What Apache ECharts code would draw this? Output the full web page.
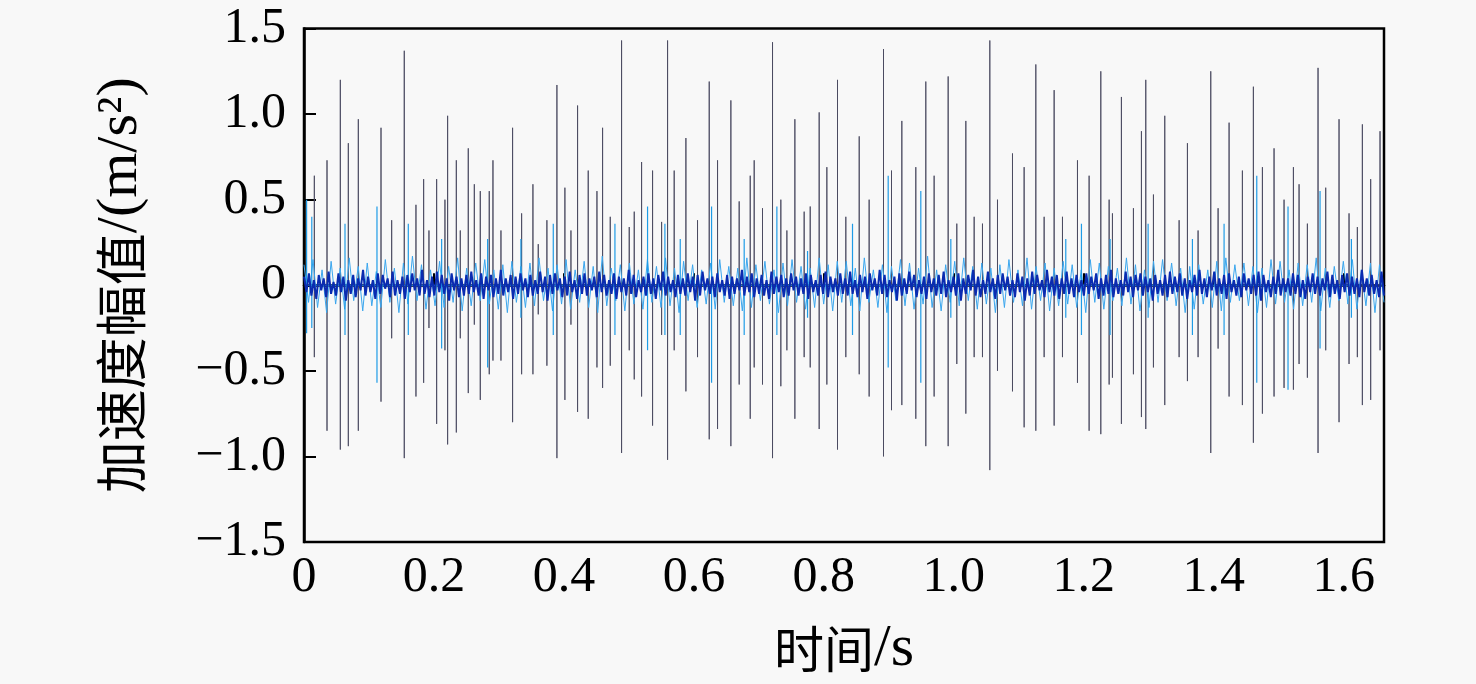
<!DOCTYPE html>
<html>
<head>
<meta charset="utf-8">
<script src="https://cdn.jsdelivr.net/npm/echarts@6/dist/echarts.min.js"></script>
<style>
html,body{margin:0;padding:0;background:#f8f8f8;}
#chart{width:1476px;height:684px;}
</style>
</head>
<body>
<div id="chart"></div>
<script>
// ---- data ----
const xTicks = [0, 0.2, 0.4, 0.6, 0.8, 1.0, 1.2, 1.4, 1.6];
const yTicks = [-1.5, -1.0, -0.5, 0, 0.5, 1.0, 1.5];

// large impulses (dark thin lines): time (s), positive peak, negative peak (m/s^2)
const spikeTime = [
  0.0159,0.0354,0.0559,0.0682,0.0836,0.1185,0.1349,0.1543,0.1723,0.1841,
  0.1923,0.2041,0.2169,0.2210,0.2344,0.2405,0.2528,0.2621,0.2713,0.2851,
  0.2908,0.3031,0.3210,0.3349,0.3523,0.3605,0.3738,0.3892,0.4015,0.4108,
  0.4210,0.4374,0.4508,0.4595,0.4713,0.4887,0.5005,0.5082,0.5195,0.5364,
  0.5503,0.5595,0.5697,0.5877,0.6056,0.6236,0.6364,0.6569,0.6697,0.6867,
  0.6928,0.7056,0.7210,0.7338,0.7431,0.7554,0.7697,0.7790,0.7928,0.8046,
  0.8210,0.8338,0.8544,0.8697,0.8918,0.9041,0.9200,0.9415,0.9569,0.9697,
  0.9913,1.0046,1.0185,1.0313,1.0441,1.0554,1.0672,1.0903,1.1082,1.1262,
  1.1390,1.1544,1.1672,1.1903,1.2082,1.2262,1.2390,1.2441,1.2579,1.2764,
  1.2887,1.2954,1.3072,1.3246,1.3467,1.3595,1.3759,1.3954,1.4067,1.4236,
  1.4441,1.4610,1.4749,1.4928,1.5082,1.5226,1.5313,1.5441,1.5605,1.5723,
  1.5928,1.6082,1.6210,1.6287,1.6415,1.6559
];
const spikeUp = [
  0.64,0.73,1.20,0.83,0.97,0.92,0.38,1.37,0.47,0.62,
  0.32,0.62,0.50,0.99,0.73,0.32,0.80,0.59,0.55,0.55,
  0.73,0.32,0.92,0.42,0.59,0.24,0.38,1.17,0.57,0.32,
  1.05,0.67,0.55,0.92,0.40,1.43,0.34,0.43,0.72,0.67,
  0.37,1.43,0.67,0.86,0.38,1.19,0.73,1.08,0.49,0.64,
  0.73,0.45,1.42,0.50,0.32,0.97,0.43,0.46,1.01,0.69,
  1.20,0.40,0.87,0.50,1.38,0.67,0.96,0.69,1.19,0.64,
  1.22,0.36,0.96,0.40,0.36,1.43,0.50,0.77,0.69,1.29,
  0.40,1.14,0.40,0.73,0.64,1.25,0.50,0.42,1.10,0.45,
  0.90,1.20,0.53,0.99,0.38,0.83,0.32,1.25,0.45,0.95,
  0.67,1.16,0.69,0.80,0.50,0.69,0.59,0.36,1.27,0.57,
  0.97,0.42,0.34,0.94,0.62,0.90
];
const spikeDown = [
  -0.42,-0.85,-0.96,-0.94,-0.85,-0.68,-0.31,-1.01,-0.65,-0.57,
  -0.25,-0.81,-0.38,-0.93,-0.86,-0.31,-0.63,-0.23,-0.67,-0.52,
  -0.44,-0.44,-0.80,-0.52,-0.52,-0.17,-0.47,-1.01,-0.67,-0.23,
  -0.74,-0.78,-0.48,-0.60,-0.47,-0.98,-0.38,-0.55,-0.65,-0.82,
  -0.29,-1.02,-0.38,-0.62,-0.42,-0.90,-0.84,-0.94,-0.58,-0.78,
  -0.48,-0.58,-1.01,-0.59,-0.38,-0.78,-0.42,-0.48,-0.84,-0.58,
  -0.96,-0.42,-0.52,-0.65,-1.00,-0.73,-0.70,-0.78,-0.94,-0.65,
  -0.94,-0.46,-0.75,-0.42,-0.42,-1.08,-0.50,-0.62,-0.83,-0.85,
  -0.42,-0.82,-0.42,-0.57,-0.85,-0.87,-0.58,-0.54,-0.81,-0.52,
  -0.77,-0.84,-0.48,-0.70,-0.42,-0.56,-0.42,-0.98,-0.37,-0.65,
  -0.70,-0.92,-0.75,-0.65,-0.60,-0.61,-0.46,-0.54,-0.98,-0.38,
  -0.80,-0.46,-0.42,-0.70,-0.67,-0.38
];

// medium impulses (light blue lines)
const blueTime = [
  0.0040,0.0120,0.0631,0.1123,0.1605,0.2118,0.2826,0.3338,0.3836,0.4785,
  0.5287,0.5554,0.5790,0.6272,0.6774,0.7277,0.7749,0.8441,0.8990,0.9492,
  0.9954,1.1723,1.1964,1.2405,1.2990,1.3672,1.4159,1.4662,1.5143,1.5636,
  1.6118
];
const blueUp = [
  0.50,0.40,0.36,0.46,0.36,0.27,0.27,0.27,0.36,0.36,
  0.46,0.36,0.27,0.46,0.27,0.46,0.20,0.36,0.64,0.55,
  0.27,0.27,0.36,0.27,0.36,0.27,0.36,0.64,0.46,0.55,
  0.27
];
const blueDown = [
  -0.28,-0.25,-0.29,-0.57,-0.29,-0.37,-0.48,-0.19,-0.29,-0.29,
  -0.38,-0.29,-0.29,-0.57,-0.29,-0.29,-0.19,-0.29,-0.48,-0.57,
  -0.19,-0.19,-0.29,-0.29,-0.19,-0.29,-0.29,-0.57,-0.61,-0.37,
  -0.19
];

// dense background vibration (dark blue core), successive samples
const noiseDark = [
  0.05,-0.04,0.07,-0.06,0.03,-0.08,0.06,-0.03,0.04,-0.07,
  0.08,-0.05,0.02,-0.06,0.07,-0.04,0.05,-0.09,0.03,-0.05,
  0.06,-0.07,0.04,-0.03,0.09,-0.06,0.05,-0.04,0.03,-0.08,
  0.07,-0.05,0.06,-0.02,0.04,-0.07,0.08,-0.06,0.03,-0.05,
  0.05,-0.08,0.06,-0.04,0.07,-0.03,0.04,-0.06,0.09,-0.05,
  0.03,-0.07,0.05,-0.06,0.08,-0.04,0.06,-0.05,0.04,-0.09,
  0.07,-0.03,0.05,-0.07,0.04,-0.06,0.06,-0.05,0.08,-0.04,
  0.03,-0.06,0.07,-0.08,0.05,-0.03,0.06,-0.07,0.04,-0.05,
  0.09,-0.06,0.04,-0.04,0.06,-0.08,0.05,-0.05,0.07,-0.03,
  0.04,-0.07,0.06,-0.06,0.03,-0.05,0.08,-0.04,0.05,-0.09,
  0.06,-0.05,0.07,-0.03,0.04,-0.07,0.05,-0.06,0.08,-0.04,
  0.03,-0.08,0.06,-0.05,0.07,-0.06,0.04,-0.03,0.05,-0.07,
  0.08,-0.04,0.06,-0.06,0.03,-0.05,0.07,-0.08,0.05,-0.04,
  0.04,-0.06,0.09,-0.05,0.06,-0.07,0.03,-0.04,0.05,-0.06,
  0.07,-0.05,0.04,-0.08,0.06,-0.03,0.08,-0.06,0.05,-0.04,
  0.03,-0.07,0.06,-0.05,0.04,-0.06,0.07,-0.04,0.05,-0.09,
  0.06,-0.06,0.08,-0.03,0.04,-0.05,0.05,-0.07,0.07,-0.04,
  0.03,-0.06,0.06,-0.08,0.05,-0.05,0.04,-0.03,0.09,-0.06,
  0.05,-0.04,0.07,-0.07,0.04,-0.05,0.06,-0.06,0.03,-0.08,
  0.08,-0.05,0.05,-0.04,0.06,-0.07,0.04,-0.06,0.07,-0.03,
  0.05,-0.06,0.04,-0.05,0.07,-0.08,0.06,-0.04,0.03,-0.06,
  0.06,-0.05,0.08,-0.07,0.05,-0.04,0.04,-0.06,0.07,-0.05,
  0.04,-0.06,0.08,-0.05,0.03,-0.07,0.06,-0.04,0.05,-0.08,
  0.07,-0.03,0.04,-0.06,0.09,-0.05,0.06,-0.07,0.03,-0.04,
  0.05,-0.09,0.07,-0.06,0.04,-0.05,0.08,-0.03,0.06,-0.07,
  0.03,-0.05,0.05,-0.08,0.07,-0.04,0.04,-0.06,0.06,-0.05,
  0.08,-0.07,0.03,-0.04,0.05,-0.06,0.07,-0.09,0.04,-0.05,
  0.06,-0.03,0.09,-0.06,0.05,-0.07,0.03,-0.05,0.08,-0.04,
  0.04,-0.08,0.06,-0.05,0.07,-0.03,0.05,-0.06,0.03,-0.07,
  0.07,-0.04,0.05,-0.09,0.04,-0.06,0.08,-0.05,0.06,-0.03,
  0.03,-0.07,0.09,-0.04,0.05,-0.06,0.06,-0.08,0.04,-0.05,
  0.08,-0.05,0.04,-0.07,0.06,-0.04,0.03,-0.06,0.07,-0.05,
  0.05,-0.03,0.07,-0.08,0.04,-0.06,0.06,-0.05,0.09,-0.07,
  0.04,-0.05,0.03,-0.06,0.08,-0.04,0.05,-0.07,0.06,-0.03,
  0.07,-0.06,0.05,-0.04,0.04,-0.09,0.06,-0.05,0.03,-0.06,
  0.06,-0.07,0.08,-0.05,0.05,-0.04,0.07,-0.06,0.04,-0.08,
  0.03,-0.04,0.06,-0.06,0.09,-0.05,0.04,-0.07,0.05,-0.03,
  0.08,-0.06,0.04,-0.05,0.06,-0.08,0.07,-0.04,0.03,-0.06,
  0.05,-0.07,0.07,-0.03,0.04,-0.05,0.06,-0.06,0.08,-0.09,
  0.06,-0.04,0.03,-0.07,0.05,-0.05,0.09,-0.06,0.04,-0.04,
  0.04,-0.06,0.07,-0.05,0.06,-0.07,0.03,-0.08,0.05,-0.04,
  0.07,-0.05,0.05,-0.06,0.04,-0.03,0.08,-0.07,0.06,-0.05,
  0.03,-0.08,0.06,-0.04,0.07,-0.06,0.05,-0.05,0.04,-0.07,
  0.09,-0.04,0.04,-0.06,0.06,-0.05,0.03,-0.07,0.08,-0.06
];

// lighter blue fringe of the background vibration
const noiseLight = [
  0.12,-0.10,0.15,-0.13,0.09,-0.16,0.14,-0.11,0.10,-0.14,
  0.16,-0.09,0.11,-0.15,0.13,-0.12,0.08,-0.13,0.15,-0.10,
  0.10,-0.16,0.13,-0.11,0.17,-0.09,0.12,-0.14,0.09,-0.12,
  0.14,-0.13,0.11,-0.10,0.16,-0.15,0.10,-0.12,0.13,-0.09,
  0.15,-0.11,0.09,-0.14,0.12,-0.16,0.14,-0.10,0.11,-0.13,
  0.13,-0.12,0.16,-0.09,0.10,-0.15,0.12,-0.11,0.15,-0.14,
  0.09,-0.10,0.14,-0.13,0.11,-0.16,0.17,-0.12,0.10,-0.09,
  0.12,-0.15,0.13,-0.11,0.09,-0.14,0.15,-0.10,0.11,-0.13,
  0.16,-0.12,0.10,-0.16,0.14,-0.09,0.12,-0.13,0.09,-0.11,
  0.13,-0.14,0.15,-0.10,0.11,-0.12,0.10,-0.15,0.16,-0.13,
  0.12,-0.09,0.14,-0.11,0.09,-0.16,0.13,-0.12,0.15,-0.10,
  0.11,-0.14,0.10,-0.13,0.16,-0.11,0.12,-0.15,0.14,-0.10,
  0.14,-0.12,0.10,-0.15,0.16,-0.10,0.09,-0.13,0.12,-0.16,
  0.11,-0.09,0.15,-0.12,0.13,-0.14,0.10,-0.11,0.17,-0.13,
  0.09,-0.15,0.12,-0.10,0.14,-0.12,0.16,-0.09,0.11,-0.14,
  0.13,-0.11,0.10,-0.16,0.12,-0.13,0.15,-0.10,0.09,-0.12,
  0.16,-0.14,0.11,-0.09,0.13,-0.15,0.10,-0.12,0.14,-0.11,
  0.12,-0.13,0.09,-0.16,0.15,-0.10,0.13,-0.14,0.11,-0.09,
  0.10,-0.12,0.16,-0.11,0.12,-0.15,0.09,-0.13,0.14,-0.10,
  0.15,-0.09,0.13,-0.12,0.10,-0.16,0.11,-0.14,0.12,-0.11,
  0.09,-0.13,0.14,-0.15,0.16,-0.10,0.12,-0.09,0.13,-0.12,
  0.11,-0.16,0.10,-0.13,0.15,-0.11,0.14,-0.10,0.09,-0.14,
  0.13,-0.12,0.12,-0.10,0.16,-0.15,0.10,-0.13,0.11,-0.09,
  0.14,-0.11,0.15,-0.14,0.09,-0.12,0.13,-0.16,0.12,-0.10
];

const xMax = 1.662;

// ---- build series from the arrays ----
function impulses(ts, ups, downs) {
  const out = [];
  for (let i = 0; i < ts.length; i++) {
    out.push([ts[i], 0], [ts[i], ups[i]], [ts[i], downs[i]], [ts[i], 0]);
  }
  return out;
}
const fmt = v => (Math.abs(v) < 1e-9 ? '0' : v.toFixed(1).replace('-', '\u2212'));

const chart = echarts.init(document.getElementById('chart'), null, {renderer: 'canvas'});
const labelFont = {fontFamily: "'Liberation Serif', 'Times New Roman', serif", fontSize: 50, color: '#000'};
const cjk = "'Noto Sans CJK SC'";
const latin = "'Liberation Serif', serif";

chart.setOption({
  animation: false,
  backgroundColor: '#f8f8f8',
  grid: {left: 304, right: 92, top: 28.5, bottom: 141, show: true, borderColor: '#000', borderWidth: 2.5, backgroundColor: 'transparent'},
  xAxis: [
    {
      type: 'value', min: 0, max: xMax, interval: 0.2,
      axisLine: {show: true, lineStyle: {color: '#000', width: 2.5}},
      axisTick: {show: true, inside: true, length: 12, lineStyle: {color: '#000', width: 2}},
      splitLine: {show: false},
      axisLabel: Object.assign({margin: 11, formatter: fmt, showMaxLabel: false}, labelFont),
      name: '{c|时间}{l|/s}', nameLocation: 'middle', nameGap: 77,
      nameTextStyle: {color: '#000', rich: {
        c: {fontFamily: cjk, fontSize: 50, color: '#000'},
        l: {fontFamily: latin, fontSize: 60, color: '#000'}
      }}
    },
    {type: 'category', show: false, boundaryGap: false, data: noiseDark.map((_, i) => i)},
    {type: 'category', show: false, boundaryGap: false, data: noiseLight.map((_, i) => i)}
  ],
  yAxis: {
    type: 'value', min: -1.5, max: 1.5, interval: 0.5,
    axisLine: {show: true, lineStyle: {color: '#000', width: 2.5}},
    axisTick: {show: true, inside: true, length: 12, lineStyle: {color: '#000', width: 2}},
    splitLine: {show: false},
    axisLabel: Object.assign({margin: 18, formatter: fmt}, labelFont),
    name: '{c|加速度幅值}{l|/(m/s²)}', nameLocation: 'middle', nameGap: 154, nameRotate: 90,
    nameTextStyle: {color: '#000', rich: {
      c: {fontFamily: cjk, fontSize: 52, color: '#000'},
      l: {fontFamily: latin, fontSize: 58, color: '#000'}
    }}
  },
  series: [
    {
      name: 'impulse', type: 'line', xAxisIndex: 0, data: impulses(spikeTime, spikeUp, spikeDown),
      showSymbol: false, symbol: 'none',
      lineStyle: {color: '#4a4a60', width: 0.9}, z: 2
    },
    {
      name: 'fringe', type: 'line', xAxisIndex: 2, data: noiseLight,
      showSymbol: false, symbol: 'none',
      lineStyle: {color: '#3aa6ee', width: 1}, z: 3
    },
    {
      name: 'medium', type: 'line', xAxisIndex: 0, data: impulses(blueTime, blueUp, blueDown),
      showSymbol: false, symbol: 'none',
      lineStyle: {color: '#1e9be6', width: 1.2}, z: 4
    },
    {
      name: 'background', type: 'line', xAxisIndex: 1, data: noiseDark,
      showSymbol: false, symbol: 'none',
      lineStyle: {color: '#0a2bb0', width: 2}, z: 5
    }
  ]
});
</script>
</body>
</html>
